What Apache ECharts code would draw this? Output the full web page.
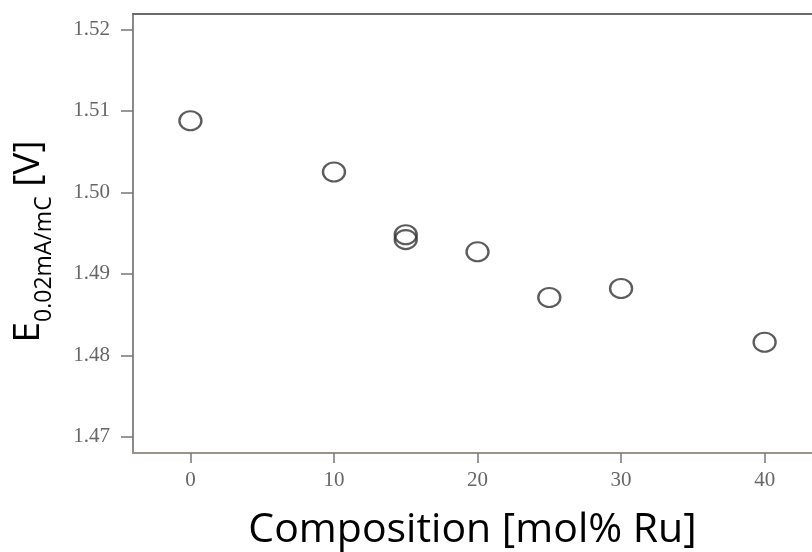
<!DOCTYPE html>
<html>
<head>
<meta charset="utf-8">
<script src="https://cdn.jsdelivr.net/npm/echarts@6/dist/echarts.min.js"></script>
<style>html,body{margin:0;padding:0;background:#fff}#c{width:812px;height:552px}</style>
</head>
<body>
<div id="c"></div>
<script>
// Data
const compositions = [0, 10, 15, 15, 20, 25, 30, 40];
const potentials = [1.5088, 1.5025, 1.4948, 1.4942, 1.4927, 1.4871, 1.4882, 1.4816];
const xTicks = [0, 10, 20, 30, 40];
const yTicks = [1.47, 1.48, 1.49, 1.50, 1.51, 1.52];
const xTitle = 'Composition [mol% Ru]';

const points = compositions.map((c, i) => [c, potentials[i]]);
const tickFont = { fontFamily: 'Liberation Serif', fontSize: 21, color: '#666' };
const xMin = -4, xMax = 43.3;

const chart = echarts.init(document.getElementById('c'), null, { renderer: 'canvas' });
chart.setOption({
  backgroundColor: '#fff',
  animation: false,
  grid: { left: 133, right: 0, top: 14, bottom: 99, containLabel: false, outerBoundsMode: 'none' },
  xAxis: [{
    type: 'value', min: xMin, max: xMax, position: 'bottom',
    name: xTitle, nameLocation: 'middle', nameGap: 57,
    nameTextStyle: { fontFamily: 'Open Sans', fontSize: 41, color: '#000' },
    axisLine: { show: true, onZero: false, lineStyle: { color: '#9a9488', width: 2 } },
    axisTick: { show: true, inside: false, length: 10, customValues: xTicks, lineStyle: { color: '#777', width: 1.5 } },
    axisLabel: Object.assign({ margin: 17, customValues: xTicks, formatter: v => String(v) }, tickFont),
    splitLine: { show: false }
  }, {
    type: 'value', min: xMin, max: xMax, position: 'top',
    axisLine: { show: true, onZero: false, lineStyle: { color: '#6b6b6b', width: 2 } },
    axisTick: { show: false }, axisLabel: { show: false }, splitLine: { show: false }
  }],
  yAxis: {
    type: 'value', min: 1.468, max: 1.5219,
    name: '{e|E}{s|0.02mA/mC}{v| [V]}', nameLocation: 'middle', nameRotate: 90, nameGap: 77,
    nameTextStyle: {
      rich: {
        e: { fontFamily: 'Open Sans', fontSize: 37, color: '#000', verticalAlign: 'bottom', padding: [0, 0, 9, 0] },
        s: { fontFamily: 'Open Sans', fontSize: 23, color: '#000', verticalAlign: 'bottom' },
        v: { fontFamily: 'Open Sans', fontSize: 37, color: '#000', verticalAlign: 'bottom', padding: [0, 16, 9, 0] }
      }
    },
    axisLine: { show: true, onZero: false, lineStyle: { color: '#8a8a8a', width: 2 } },
    axisTick: { show: true, inside: false, length: 12, customValues: yTicks, lineStyle: { color: '#777', width: 1.5 } },
    axisLabel: Object.assign({ margin: 23, customValues: yTicks, formatter: v => v.toFixed(2) }, tickFont),
    splitLine: { show: false }
  },
  series: [{
    type: 'scatter', xAxisIndex: 0,
    data: points,
    symbol: 'circle', symbolSize: [22, 19],
    itemStyle: { color: 'rgba(255,255,255,0)', borderColor: '#333', borderWidth: 2.2 }
  }]
});
</script>
</body>
</html>
